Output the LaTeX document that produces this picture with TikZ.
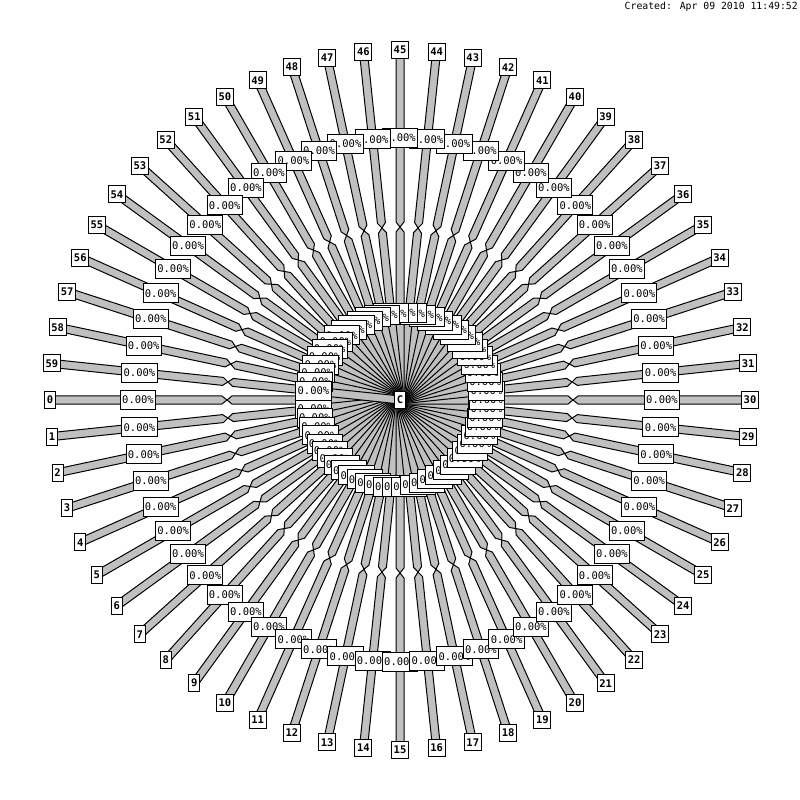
\documentclass[tikz,border=0pt]{standalone}
\usepackage{fontspec}
\newfontfamily\gdfont{DejaVu Sans Mono}
\definecolor{bandgray}{HTML}{C0C0C0}

\begin{document}
\begin{tikzpicture}[
  x=1pt,
  y=1pt,
  line join=miter,
  band/.style={fill=bandgray,draw=black,line width=1pt},
  vertex/.style={draw=black,fill=white,line width=1pt,inner xsep=2.2pt,inner ysep=0pt,
    minimum height=17pt,font=\gdfont\bfseries\fontsize{10.5}{10.5}\selectfont},
  share/.style={draw=black,fill=white,line width=1pt,inner xsep=1.8pt,inner ysep=0pt,
    minimum height=19pt,font=\gdfont\fontsize{10.5}{10.5}\selectfont},
  stamp/.style={inner sep=0pt,font=\gdfont\fontsize{9.8}{9.8}\selectfont}
]
  % Page frame, centre of the star at the origin.
  \path[use as bounding box,fill=white] (-400,-400) rectangle (400,400);

  % Ribbons: outer piece ends in a point, inner piece starts from the same point.
  \foreach \k in {0,...,59} {
    \pgfmathsetmacro{\a}{180+6*\k}
    \begin{scope}[rotate=\a]
      \draw[band] (350,4) -- (178,4) -- (173,0) -- (178,-4) -- (350,-4) -- cycle;
      \draw[band] (0,4) -- (168,4) -- (173,0) -- (168,-4) -- (0,-4) -- cycle;
    \end{scope}
  }

  % Inner ring of share labels, later ones cover earlier ones.
  \foreach \k in {0,...,59} {
    \pgfmathsetmacro{\a}{180+6*\k}
    \node[share] (q\k) at (\a:87) {0.00\%};
  }

  % Outer ring of share labels.
  \foreach \k in {0,...,59} {
    \pgfmathsetmacro{\a}{180+6*\k}
    \node[share] (p\k) at (\a:262) {0.00\%};
  }

  % Numbered leaves and the centre.
  \foreach \k in {0,...,59} {
    \pgfmathsetmacro{\a}{180+6*\k}
    \node[vertex] (n\k) at (\a:350) {\k};
  }
  \node[vertex] (c) at (0,0) {C};

  \node[stamp,anchor=north east] (created) at (398,398) {Created: Apr 09 2010 11:49:52};
\end{tikzpicture}
\end{document}
